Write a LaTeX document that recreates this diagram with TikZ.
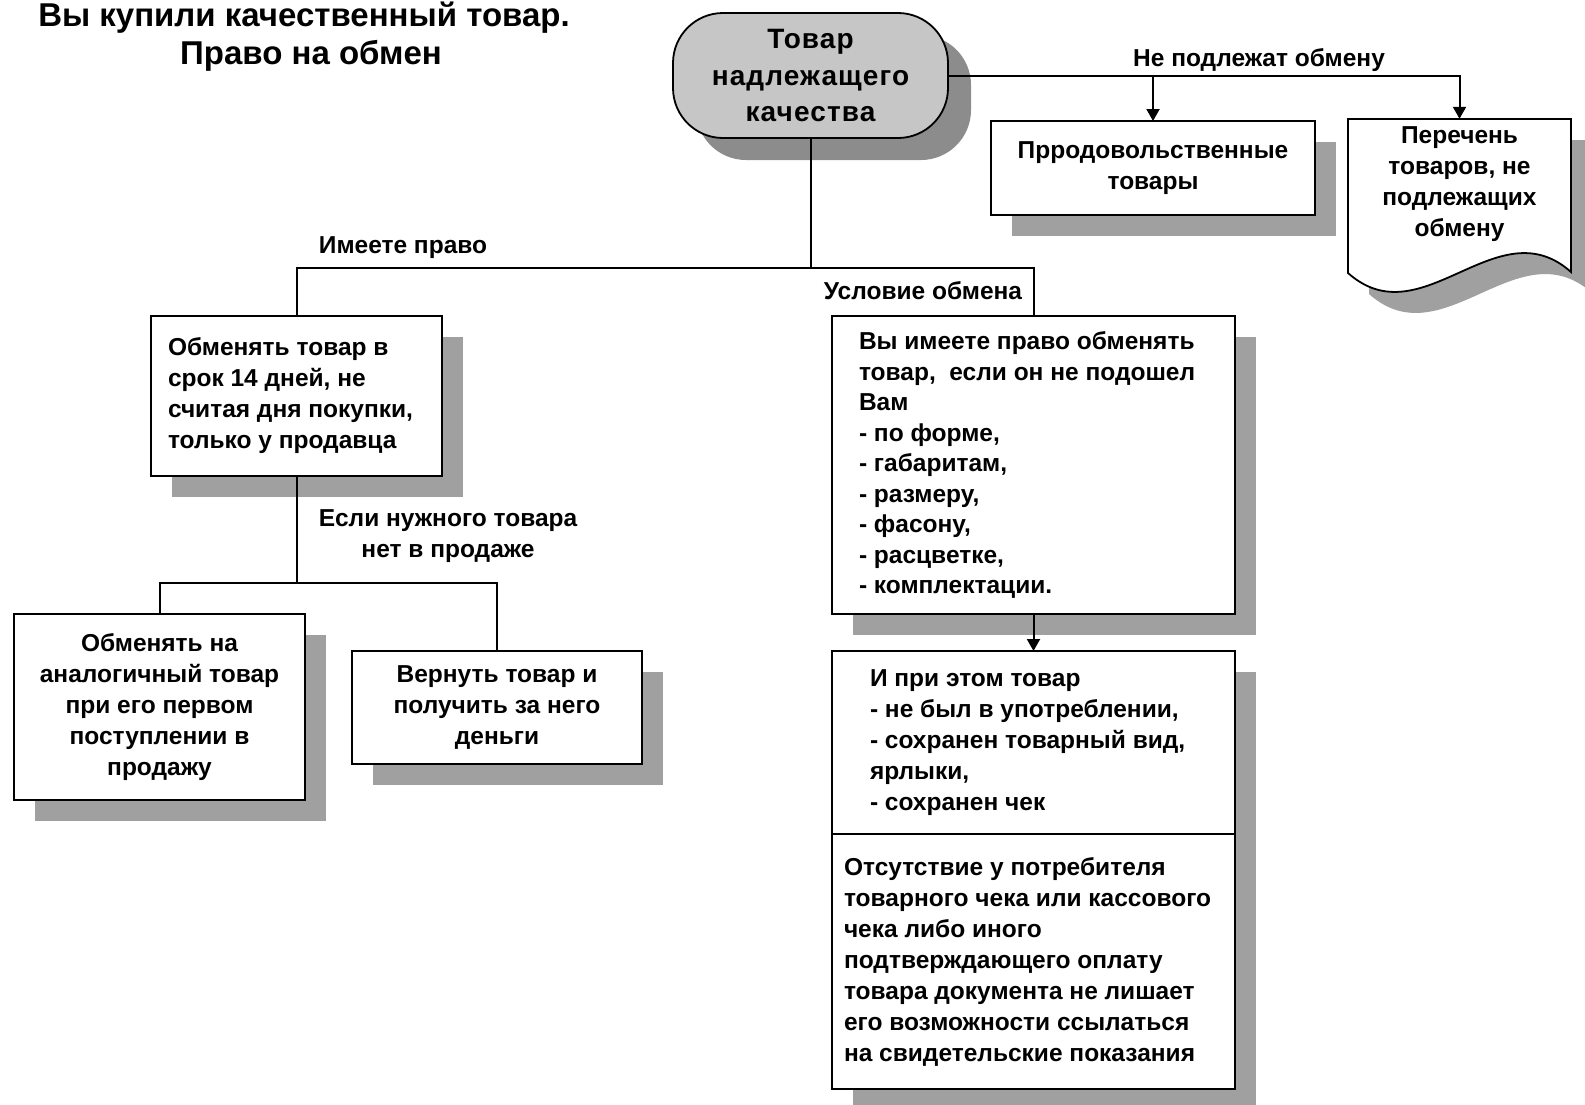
\documentclass[tikz,border=0pt]{standalone}
\usepackage{fontspec}
\setmainfont{Liberation Sans}
\usetikzlibrary{shadows,arrows.meta}
\definecolor{shadowgray}{HTML}{A0A0A0}
\definecolor{stadshadow}{HTML}{8C8C8C}
\definecolor{stadfill}{HTML}{C6C6C6}
\newcommand\boxfont{\bfseries\fontsize{24.5}{31}\selectfont}
\newcommand\titlefont{\bfseries\fontsize{33}{38}\selectfont}
\newcommand\stadfont{\bfseries\fontsize{28}{36.5}\selectfont\addfontfeature{LetterSpace=4}}
\newcommand\LTbox[3]{\makebox[#1pt][l]{\hspace*{#2pt}\parbox{\dimexpr#1pt-#2pt\relax}{\raggedright #3}}}
\begin{document}
\begin{tikzpicture}[x=1pt,y=-1pt,
  conn/.style={line width=2pt},
  arr/.style={line width=2pt,-{Triangle[width=13pt,length=12pt]}},
  shad/.style={drop shadow={shadow xshift=21pt,shadow yshift=-21pt,fill=shadowgray,opacity=1}},
  boxbase/.style={draw,line width=1.8pt,fill=white,outer sep=0pt,inner ysep=0pt,font=\boxfont,shad},
  cbox/.style={boxbase,align=center},
  lbox/.style={boxbase,inner xsep=0pt},
  lbl/.style={font=\boxfont,inner sep=0pt}]
\useasboundingbox (0,0) rectangle (1585,1104);

% title
\node[font=\titlefont,anchor=base,inner sep=0pt] (t1) at (304,26) {Вы купили качественный товар.};
\node[font=\titlefont,anchor=base,inner sep=0pt] (t2) at (311,64) {Право на обмен};

% central stadium
\node[draw,line width=1.8pt,fill=stadfill,rounded corners=50pt,minimum width=275,minimum height=125,
      align=center,font=\stadfont,inner sep=0pt,
      drop shadow={shadow xshift=23pt,shadow yshift=-22pt,fill=stadshadow,opacity=1}]
      (S) at (810.5,75.5) {Товар\\надлежащего\\качества};

% non-exchangeable
\node[cbox,minimum width=324,minimum height=94] (P) at (1153,168) {Прродовольственные\\товары};

\draw[line width=1.8pt,fill=white,drop shadow={shadow xshift=21pt,shadow yshift=-21pt,fill=shadowgray,opacity=1}]
  (1348,119) -- (1571,119) -- (1571,272) .. controls (1497,206) and (1422,339) .. (1348,273) -- cycle;
\node[lbl,align=center,minimum width=223,minimum height=130] (doc) at (1459.5,184)
  {Перечень\\товаров, не\\подлежащих\\обмену};

% left branch
\node[lbox,minimum width=291,minimum height=160] (A) at (296.5,396)
  {\LTbox{291}{17}{Обменять товар в\\срок 14 дней, не\\считая дня покупки,\\только у продавца}};
\node[cbox,minimum width=291,minimum height=186] (B) at (159.5,707)
  {Обменять на\\аналогичный товар\\при его первом\\поступлении в\\продажу};
\node[cbox,minimum width=290,minimum height=113] (C) at (497,707.5)
  {Вернуть товар и\\получить за него\\деньги};

% right branch
\node[lbox,minimum width=403,minimum height=298] (D) at (1033.5,465)
  {\fontsize{24.5}{30.5}\selectfont\LTbox{403}{27}{Вы имеете право обменять\\товар,\ \ если он не подошел\\Вам\\- по форме,\\- габаритам,\\- размеру,\\- фасону,\\- расцветке,\\- комплектации.}};
\node[lbox,minimum width=403,minimum height=183] (E1) at (1033.5,742.5)
  {\LTbox{403}{38}{И при этом товар\\- не был в употреблении,\\- сохранен товарный вид,\\ярлыки,\\- сохранен чек}};
\node[lbox,minimum width=403,minimum height=255] (E2) at (1033.5,961.5)
  {\LTbox{403}{12}{Отсутствие у потребителя\\товарного чека или кассового\\чека либо иного\\подтверждающего оплату\\товара документа не лишает\\его возможности ссылаться\\на свидетельские показания}};

% connectors
\coordinate (hy) at (0,268);
\coordinate (hy2) at (0,583);
\draw[arr] (S.east) -| (doc.north);
\draw[arr] (P.north |- S.east) -- (P.north);
\draw[conn] (S.south) -- (S.south |- hy);
\draw[conn] (A.north) |- (D.north |- hy) -- (D.north);
\draw[conn] (A.south) -- (A.south |- hy2);
\draw[conn] (B.north) |- (C.north |- hy2) -- (C.north);
\draw[arr] (D.south) -- (E1.north);

% labels
\node[lbl,anchor=base] (l1) at (1259,66) {Не подлежат обмену};
\node[lbl,anchor=base] (l2) at (403,253) {Имеете право};
\node[lbl,anchor=base] (l3) at (923,299) {Условие обмена};
\node[lbl,align=center] (l4) at (448,536) {Если нужного товара\\нет в продаже};
\end{tikzpicture}
\end{document}
